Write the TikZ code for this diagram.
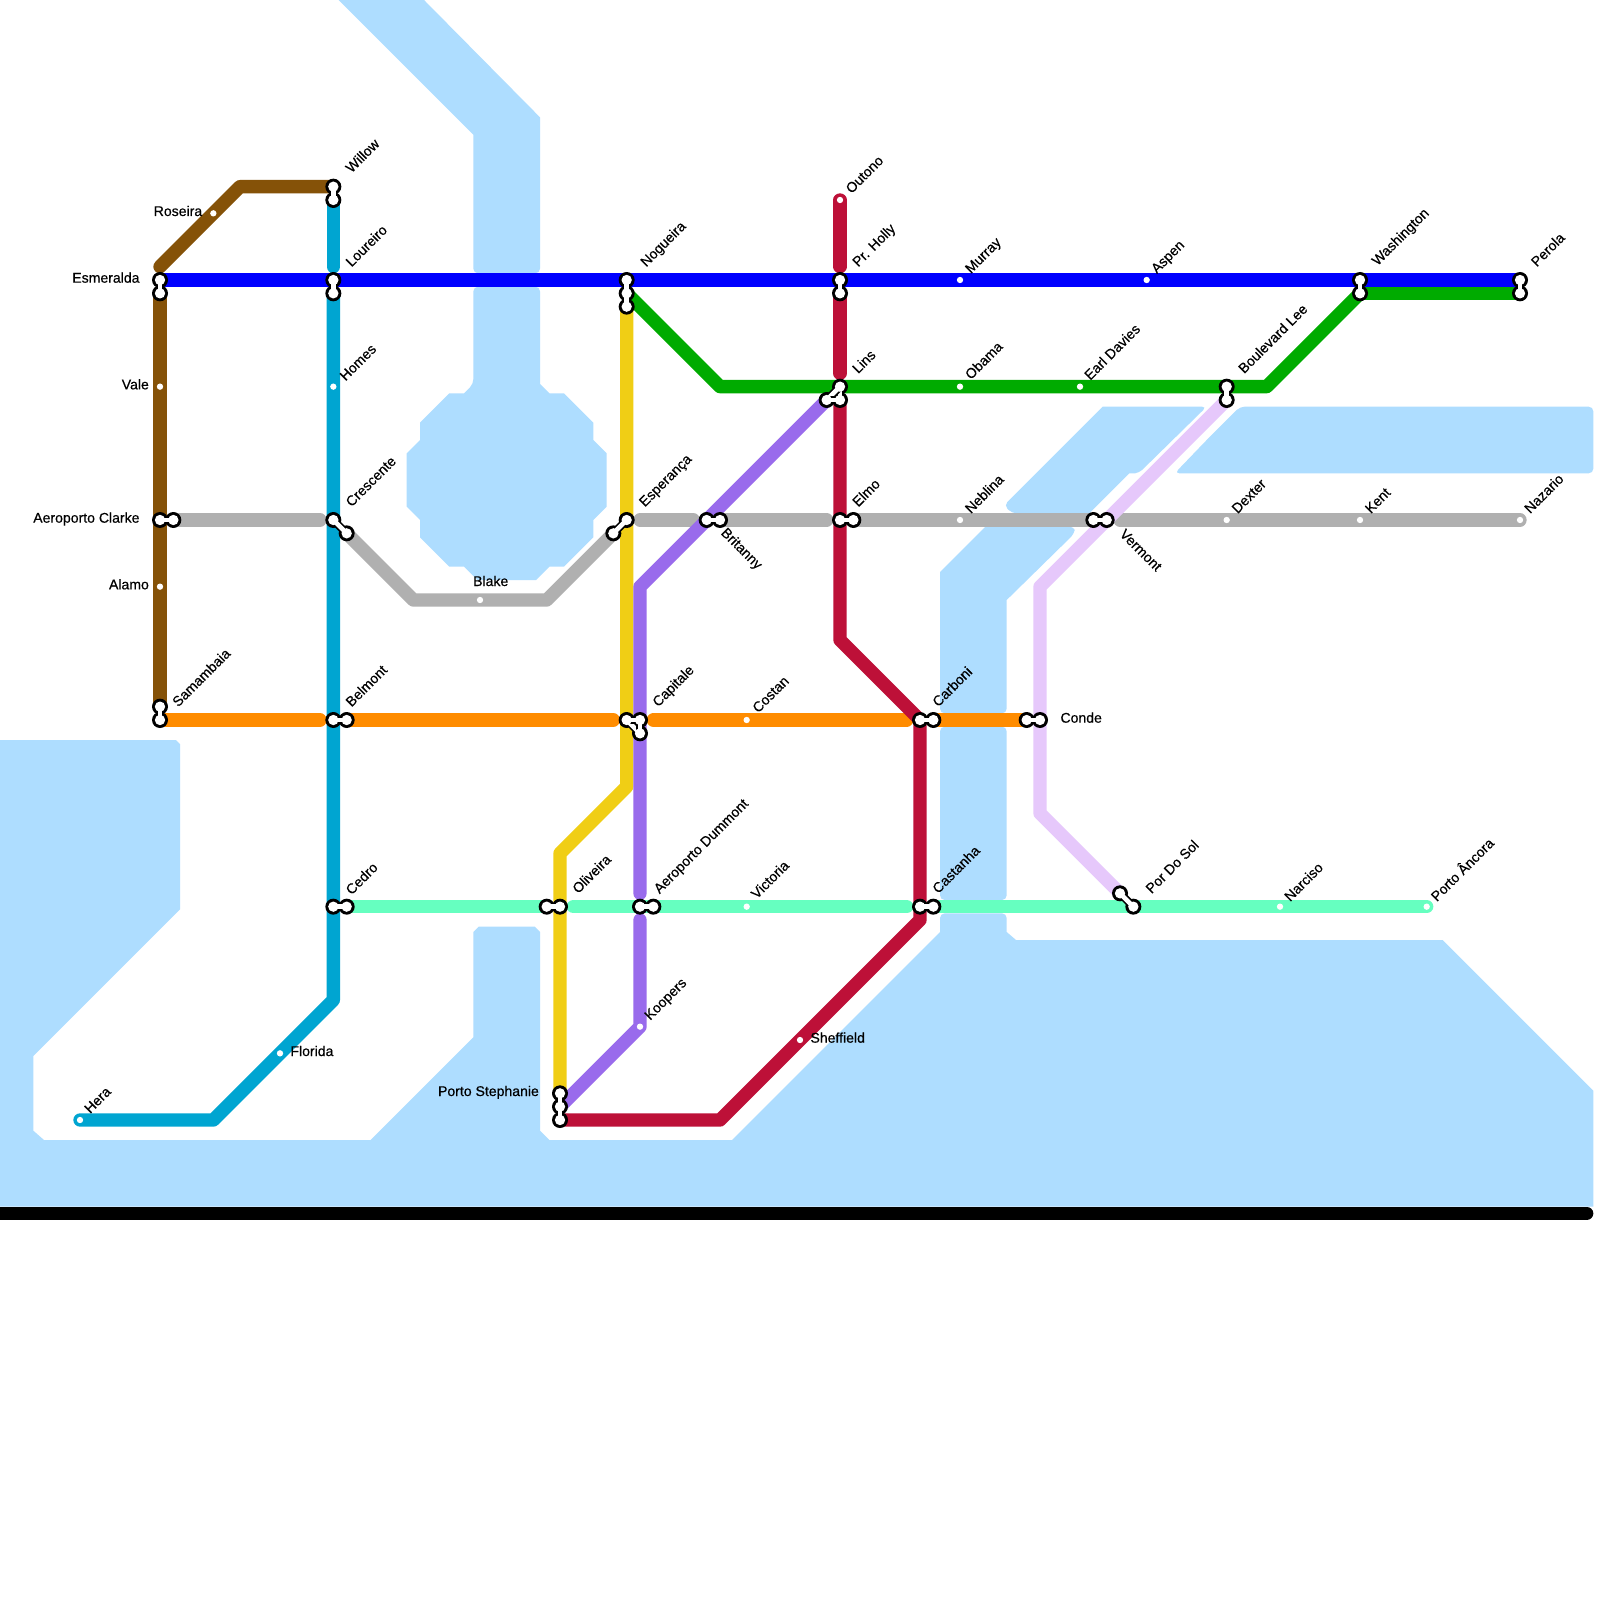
\documentclass[tikz,border=0pt]{standalone}
\usepackage{fontspec}
\newfontfamily\lblfont[FakeBold=0.4]{Liberation Sans}
\definecolor{water}{HTML}{AEDDFF}
\definecolor{cbrown}{HTML}{855208}
\definecolor{cblue}{HTML}{0000FF}
\definecolor{ccyan}{HTML}{00A5D1}
\definecolor{cgreen}{HTML}{00AB00}
\definecolor{cgray}{HTML}{B0B0B0}
\definecolor{cyellow}{HTML}{F0CE15}
\definecolor{cpurple}{HTML}{996BEC}
\definecolor{cred}{HTML}{BD1038}
\definecolor{corange}{HTML}{FF8C00}
\definecolor{cmint}{HTML}{66FFC0}
\definecolor{clav}{HTML}{E6C8FB}
\tikzset{
  waterarea/.style={fill=water,draw=none},
  rc/.style={rounded corners=2pt},
  metro/.style={line width=2mm,line cap=round,line join=round},
  linkout/.style={draw=black,line width=1.2mm},
  linkin/.style={draw=white,line width=0.7mm},
  ringout/.style={circle,fill=black,minimum size=2.4mm,inner sep=0,draw=none},
  ringin/.style={circle,fill=white,minimum size=1.55mm,inner sep=0,draw=none},
  dotstop/.style={circle,fill=white,minimum size=0.95mm,inner sep=0,draw=none},
  lbl/.style={font=\lblfont\fontsize{6pt}{7pt}\selectfont,inner sep=0,text=black},
  diag/.style={lbl,rotate=45,anchor=base west,xshift=0.5mm,yshift=-0.75mm},
  diagdown/.style={lbl,rotate=-45,anchor=base west},
  lblE/.style={lbl,anchor=base east},
  lblW/.style={lbl,anchor=base west},
}
\newcommand{\ring}[1]{\node[ringout] at (#1) {};}
\newcommand{\ringW}[1]{\node[ringin] at (#1) {};}
\newcommand{\lnk}[2]{\draw[linkout] (#1) -- (#2);\draw[linkin] (#1) -- (#2);}
\begin{document}
\begin{tikzpicture}[x=0.2cm,y=-0.2cm]
\clip (0,0) rectangle (120,120);
\fill[white] (0,0) rectangle (120,120);
% water
\fill[waterarea] (24.4,-1) -- (35.5,10.1) [rc] -- (35.5,20.5) -- (40.5,20.5) [sharp corners] -- (40.5,8.8) -- (31.8,0) -- (30.8,-1) -- cycle;
\fill[waterarea] (35.5,28.8) -- (34.8,29.5) -- (33.7,29.5) -- (31.5,31.7) -- (31.5,33) -- (30.5,34) -- (30.5,38) -- (31.5,39) -- (31.5,40.3) -- (33.7,42.5) -- (34.8,42.5) -- (35.8,43.5) -- (40.2,43.5) -- (41.2,42.5) -- (42.3,42.5) -- (44.5,40.3) -- (44.5,39) -- (45.5,38) -- (45.5,34) -- (44.5,33) -- (44.5,31.7) -- (42.3,29.5) -- (41.2,29.5) -- (40.5,28.8) [rc] -- (40.5,21.5) -- (35.5,21.5) -- cycle;
\fill[waterarea] [rc] (90.5,33) -- (93,30.5) -- (119.5,30.5) -- (119.5,35.5) -- (88.1,35.5) -- cycle;
\fill[waterarea] (85.2,35.5) -- (84.7,35.5) -- (81.7,38.5) [rc] -- (75.9,38.5) -- (75.3,37.9) [sharp corners] -- (82.7,30.5) [rc] -- (90.5,30.5) -- (85.4,35.5) [sharp corners] -- cycle;
\fill[waterarea] (75.5,45) [rc] -- (75.5,53.5) -- (70.5,53.5) [sharp corners] -- (70.5,42.9) -- (73.9,39.5) [rc] -- (80.6,39.5) -- (80.6,40) [sharp corners] -- cycle;
\fill[waterarea] [rc] (70.5,54.5) -- (75.5,54.5) -- (75.5,67.5) -- (70.5,67.5) -- cycle;
\fill[waterarea] (-1,55.5) -- (13.2,55.5) -- (13.5,55.8) -- (13.5,68.2) -- (2.5,79.2) -- (2.5,84.8) -- (3.3,85.5) -- (27.8,85.5) -- (35.5,77.8) -- (35.5,69.9) -- (35.9,69.5) -- (40.1,69.5) -- (40.5,69.9) -- (40.5,84.8) -- (41.2,85.5) -- (54.9,85.5) -- (70.5,69.9) [rc] -- (70.5,68.5) -- (75.5,68.5) [sharp corners] -- (75.5,69.9) -- (76.2,70.5) -- (108.2,70.5) -- (119.5,81.8) -- (119.5,90.5) -- (-1,90.5) -- cycle;

% station and bend coordinates
\foreach \n/\p in {
 esm1/{12,21},esm2/{12,22},vale/{12,29},acl1/{12,39},acl2/{13,39},alamo/{12,44},sam1/{12,53},sam2/{12,54},
 ros/{16,16},wil1/{25,14},wil2/{25,15},lou1/{25,21},lou2/{25,22},hom/{25,29},cre1/{25,39},cre2/{26,40},
 bel1/{25,54},bel2/{26,54},ced1/{25,68},ced2/{26,68},flo/{21,79},hera/{6,84},
 bla/{36,45},esp1/{46,40},esp2/{47,39},nog1/{47,21},nog2/{47,22},nog3/{47,23},
 cap1/{47,54},cap2/{48,54},cap3/{48,55},oli1/{41,68},oli2/{42,68},ps1/{42,82},ps2/{42,83},ps3/{42,84},
 adu1/{48,68},adu2/{49,68},koo/{48,77},bri1/{53,39},bri2/{54,39},cos/{56,54},vic/{56,68},she/{60,78},
 out/{63,15},hol1/{63,21},hol2/{63,22},lin1/{63,29},lin2/{63,30},lin3/{62,30},elm1/{63,39},elm2/{64,39},
 car1/{69,54},car2/{70,54},cas1/{69,68},cas2/{70,68},mur/{72,21},oba/{72,29},neb/{72,39},
 con1/{77,54},con2/{78,54},ear/{81,29},ver1/{82,39},ver2/{83,39},pds1/{84,67},pds2/{85,68},asp/{86,21},
 bou1/{92,29},bou2/{92,30},dex/{92,39},nar/{96,68},was1/{102,21},was2/{102,22},ken/{102,39},anc/{107,68},
 per1/{114,21},per2/{114,22},naz/{114,39},
 bBrA/{12,20},bBrB/{18,14},bCyA/{25,20},bCyB/{25,75},bCyC/{16,84},
 bGrA/{14,39},bGrB/{24,39},bGrC/{31,45},bGrD/{41,45},bGrE/{48,39},bGrF/{52,39},bGrG/{62,39},bGrH/{84,39},
 bYeA/{47,59},bYeB/{42,64},bPuA/{48,44},bPuB/{48,67},bPuC/{48,69},
 bReA/{63,20},bReB/{63,28},bReC/{63,48},bReD/{69,69},bReE/{54,84},
 bGnA/{54,29},bGnB/{95,29},bLaA/{78,44},bLaB/{78,61},
 bOrA/{24,54},bOrB/{46,54},bOrC/{49,54},bOrD/{68,54},bMiA/{43,68},bMiB/{68,68},
 bBkA/{-1,91},bBkB/{119,91}}
 {\coordinate (\n) at (\p);}

% lines
\draw[metro,draw=cgray] (acl2) -- (bGrB);
\draw[metro,draw=cgray] (cre2) -- (bGrC) -- (bGrD) -- (esp1);
\draw[metro,draw=cgray] (bGrE) -- (bGrF);
\draw[metro,draw=cgray] (bri2) -- (bGrG);
\draw[metro,draw=cgray] (elm2) -- (ver1);
\draw[metro,draw=cgray] (bGrH) -- (naz);
\draw[metro,draw=cmint] (ced2) -- (oli1);
\draw[metro,draw=cmint] (bMiA) -- (bMiB);
\draw[metro,draw=cmint] (cas2) -- (anc);
\draw[metro,draw=corange] (sam2) -- (bOrA);
\draw[metro,draw=corange] (bel2) -- (bOrB);
\draw[metro,draw=corange] (bOrC) -- (bOrD);
\draw[metro,draw=corange] (car2) -- (con1);
\draw[metro,draw=clav] (bou2) -- (bLaA) -- (bLaB) -- (pds1);
\draw[metro,draw=cyellow] (nog3) -- (bYeA) -- (bYeB) -- (ps1);
\draw[metro,draw=cpurple] (lin3) -- (bPuA) -- (bPuB);
\draw[metro,draw=cpurple] (bPuC) -- (koo) -- (ps2);
\draw[metro,draw=cbrown] (sam1) -- (esm2);
\draw[metro,draw=cbrown] (bBrA) -- (bBrB) -- (wil1);
\draw[metro,draw=ccyan] (wil2) -- (bCyA);
\draw[metro,draw=ccyan] (lou2) -- (bCyB) -- (bCyC) -- (hera);
\draw[metro,draw=cred] (out) -- (bReA);
\draw[metro,draw=cred] (hol2) -- (bReB);
\draw[metro,draw=cred] (lin2) -- (bReC) -- (car1) -- (bReD) -- (bReE) -- (ps3);
\draw[metro,draw=cgreen] (nog2) -- (bGnA) -- (bGnB) -- (was2) -- (per2);
\draw[metro,draw=cblue] (esm1) -- (per1);
\draw[metro,draw=black] (bBkA) -- (bBkB);

% interchange rings
\foreach \s in {esm1,esm2,acl1,acl2,sam1,sam2,wil1,wil2,lou1,lou2,cre1,cre2,bel1,bel2,ced1,ced2,esp1,esp2,nog1,nog2,nog3,cap1,cap2,cap3,oli1,oli2,ps1,ps2,ps3,adu1,adu2,bri1,bri2,hol1,hol2,lin1,lin2,lin3,elm1,elm2,car1,car2,cas1,cas2,con1,con2,ver1,ver2,pds1,pds2,bou1,bou2,was1,was2,per1,per2}
 {\ring{\s}}
\lnk{esm1}{esm2}\lnk{acl1}{acl2}\lnk{sam1}{sam2}\lnk{wil1}{wil2}\lnk{lou1}{lou2}\lnk{cre1}{cre2}
\lnk{bel1}{bel2}\lnk{ced1}{ced2}\lnk{esp1}{esp2}\lnk{nog1}{nog2}\lnk{nog2}{nog3}
\lnk{cap1}{cap3}\lnk{cap2}{cap3}\lnk{cap1}{cap2}
\lnk{oli1}{oli2}\lnk{ps1}{ps2}\lnk{ps2}{ps3}\lnk{adu1}{adu2}\lnk{bri1}{bri2}\lnk{hol1}{hol2}
\lnk{lin1}{lin2}\lnk{lin1}{lin3}\lnk{lin3}{lin2}
\lnk{elm1}{elm2}\lnk{car1}{car2}\lnk{cas1}{cas2}\lnk{con1}{con2}\lnk{ver1}{ver2}\lnk{pds1}{pds2}
\lnk{bou1}{bou2}\lnk{was1}{was2}\lnk{per1}{per2}
\foreach \s in {esm1,esm2,acl1,acl2,sam1,sam2,wil1,wil2,lou1,lou2,cre1,cre2,bel1,bel2,ced1,ced2,esp1,esp2,nog1,nog2,nog3,cap1,cap2,cap3,oli1,oli2,ps1,ps2,ps3,adu1,adu2,bri1,bri2,hol1,hol2,lin1,lin2,lin3,elm1,elm2,car1,car2,cas1,cas2,con1,con2,ver1,ver2,pds1,pds2,bou1,bou2,was1,was2,per1,per2}
 {\ringW{\s}}
% simple stops
\foreach \s in {vale,alamo,ros,hom,flo,hera,bla,koo,cos,vic,she,out,mur,oba,neb,ear,asp,dex,nar,ken,anc,naz}
 {\node[dotstop] at (\s) {};}

% labels
\node[lblE] (tEsm) at (10.5,21.2) {Esmeralda};
\node[lblE] (tAcl) at (10.5,39.2) {Aeroporto Clarke};
\node[lblE] (tVal) at (11.2,29.2) {Vale};
\node[lblE] (tAla) at (11.2,44.2) {Alamo};
\node[lblE] (tRos) at (15.2,16.2) {Roseira};
\node[lblE] (tPS) at (40.45,82.2) {Porto Stephanie};
\node[lblW] (tBla) at (35.45,43.95) {Blake};
\node[lblW] (tFlo) at (21.75,79.2) {Florida};
\node[lblW] (tShe) at (60.75,78.2) {Sheffield};
\node[lblW] (tCon) at (79.5,54.2) {Conde};
\node[diag] (tWil) at (25.9,12.95) {Willow};
\node[diag] (tLou) at (25.9,20) {Loureiro};
\node[diag] (tHom) at (25.45,28.55) {Homes};
\node[diag] (tCre) at (25.9,38) {Crescente};
\node[diag] (tBel) at (25.9,53) {Belmont};
\node[diag] (tCed) at (25.9,67.1) {Cedro};
\node[diag] (tSam) at (12.9,53) {Samambaia};
\node[diag] (tHer) at (6.3,83.5) {Hera};
\node[diag] (tNog) at (48,20) {Nogueira};
\node[diag] (tEsp) at (47.9,38) {Esperança};
\node[diag] (tCap) at (48.9,53) {Capitale};
\node[diag] (tOli) at (42.9,67) {Oliveira};
\node[diag] (tAdu) at (49,67) {Aeroporto Dummont};
\node[diag] (tKoo) at (48.3,76.5) {Koopers};
\node[diag] (tCos) at (56.4,53.45) {Costan};
\node[diag] (tVic) at (56.3,67.4) {Victoria};
\node[diag] (tOut) at (63.4,14.5) {Outono};
\node[diag] (tHol) at (63.9,20) {Pr. Holly};
\node[diag] (tLin) at (63.9,28) {Lins};
\node[diag] (tElm) at (63.9,38) {Elmo};
\node[diag] (tCar) at (69.9,53) {Carboni};
\node[diag] (tCas) at (69.9,67) {Castanha};
\node[diag] (tMur) at (72.35,20.5) {Murray};
\node[diag] (tOba) at (72.35,28.45) {Obama};
\node[diag] (tNeb) at (72.35,38.5) {Neblina};
\node[diag] (tEar) at (81.3,28.5) {Earl Davies};
\node[diag] (tAsp) at (86.3,20.5) {Aspen};
\node[diag] (tBou) at (92.85,28) {Boulevard Lee};
\node[diag] (tDex) at (92.35,38.5) {Dexter};
\node[diag] (tWas) at (102.85,19.9) {Washington};
\node[diag] (tKen) at (102.35,38.5) {Kent};
\node[diag] (tPer) at (114.8,20) {Perola};
\node[diag] (tNaz) at (114.3,38.5) {Nazario};
\node[diag] (tPds) at (85.9,67) {Por Do Sol};
\node[diag] (tNar) at (96.3,67.6) {Narciso};
\node[diag] (tAnc) at (107.3,67.6) {Porto Âncora};
\node[diagdown] (tBri) at (54,40) {Britanny};
\node[diagdown] (tVer) at (83.9,40.1) {Vermont};
\end{tikzpicture}
\end{document}
